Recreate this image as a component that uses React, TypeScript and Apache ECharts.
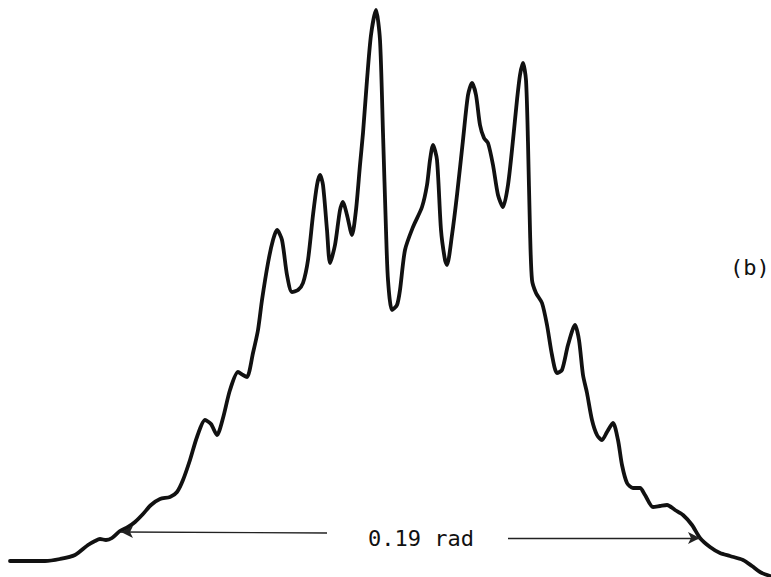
import React, { useEffect, useRef } from "react";
import * as echarts from "echarts";

// Horizontal position (angle, arbitrary units) and intensity
const angle = [10, 45, 60, 75, 88, 95, 100, 106, 112, 120, 128, 135, 143, 151, 160, 170, 177, 183, 190, 197, 205, 211, 217, 223, 230, 238, 243, 247, 253, 258, 262, 268, 273, 277, 282, 287, 292, 298, 303, 308, 313, 317, 320, 323, 327, 330, 335, 340, 343, 347, 352, 356, 360, 363, 367, 371, 376, 380, 383, 386, 388, 392, 397, 400, 405, 413, 422, 427, 430, 433, 437, 441, 445, 447, 452, 457, 463, 468, 472, 476, 480, 484, 488, 493, 498, 503, 508, 513, 517, 520, 523, 526, 528, 530, 532, 536, 542, 547, 552, 557, 562, 568, 575, 579, 583, 587, 592, 597, 602, 607, 613, 618, 622, 627, 633, 640, 645, 653, 660, 667, 675, 683, 692, 700, 710, 720, 730, 743, 752, 760, 770];
const level = [561, 561, 559, 555, 545, 541, 539, 540, 538, 531, 527, 522, 514, 505, 499, 497, 492, 480, 460, 437, 420, 424, 435, 418, 390, 372, 375, 377, 353, 330, 300, 263, 240, 230, 240, 275, 292, 290, 283, 260, 215, 185, 175, 185, 230, 263, 245, 210, 202, 215, 235, 210, 165, 133, 80, 35, 10, 40, 133, 230, 280, 310, 305, 290, 250, 227, 207, 185, 160, 145, 160, 230, 260, 265, 235, 195, 140, 95, 83, 95, 125, 138, 143, 165, 195, 207, 185, 140, 100, 75, 63, 80, 143, 230, 280, 293, 303, 325, 355, 373, 370, 345, 325, 340, 375, 393, 420, 435, 440, 432, 423, 440, 465, 483, 488, 488, 495, 507, 506, 505, 510, 515, 525, 538, 547, 553, 556, 560, 566, 572, 576];
const H = 577;
const intensity = level.map((v) => H - v);

// Width marker: arrows spanning 0.19 rad
const leftArrow = [[327, H - 533], [121, H - 532]];
const rightArrow = [[508, H - 538], [700, H - 538]];
const widthLabel = "0.19 rad";
const panelLabel = "(b)";

export default function App() {
  const ref = useRef<HTMLDivElement>(null);
  useEffect(() => {
    if (!ref.current) return;
    const chart = echarts.init(ref.current, null, { renderer: "svg" });
    chart.setOption({
      animation: false,
      backgroundColor: "#ffffff",
      grid: { left: 0, right: 0, top: 0, bottom: 0 },
      xAxis: { type: "value", min: 0, max: 771, show: false },
      yAxis: { type: "value", min: 0, max: H, show: false },
      series: [
        {
          type: "line",
          data: angle.map((a, i) => [a, intensity[i]]),
          showSymbol: false,
          symbol: "none",
          smooth: 0.25,
          lineStyle: { color: "#111", width: 3.8, cap: "round", join: "round" },
          markLine: {
            silent: true,
            symbol: ["none", "arrow"],
            symbolSize: [9, 12],
            label: { show: false },
            lineStyle: { color: "#222", width: 1.4, type: "solid" },
            data: [
              [{ coord: leftArrow[0] }, { coord: leftArrow[1] }],
              [{ coord: rightArrow[0] }, { coord: rightArrow[1] }],
            ],
          },
        },
      ],
      graphic: [
        {
          type: "text",
          x: 421,
          y: 538,
          style: {
            text: widthLabel,
            font: '22px "DejaVu Sans Mono", monospace',
            fill: "#111",
            textAlign: "center",
            textVerticalAlign: "middle",
          },
        },
        {
          type: "text",
          x: 730,
          y: 267,
          style: {
            text: panelLabel,
            font: '22px "DejaVu Sans Mono", monospace',
            fill: "#111",
            textAlign: "left",
            textVerticalAlign: "middle",
          },
        },
      ],
    });
    return () => chart.dispose();
  }, []);
  return (
    <div
      ref={ref}
      style={{ position: "fixed", left: 0, top: 0, width: 771, height: 577, background: "#fff" }}
    />
  );
}
